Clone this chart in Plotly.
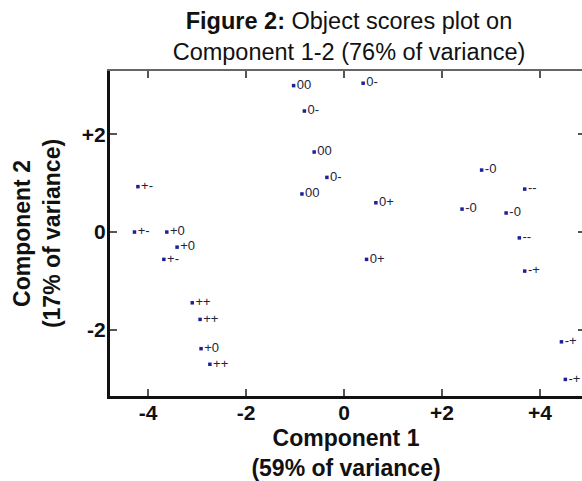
import plotly.graph_objects as go

# Object scores on the first two components
comp1 = [-4.21, -1.03, 0.39, -0.81, -0.61, -0.35, -0.86, 0.65, 0.46,
         2.81, 3.69, 2.41, 3.31, 3.58, 3.69,
         -4.28, -3.62, -3.41, -3.68, -3.10, -2.94, -2.92, -2.74,
         4.44, 4.52]
comp2 = [0.93, 3.00, 3.05, 2.48, 1.64, 1.12, 0.78, 0.60, -0.56,
         1.27, 0.88, 0.47, 0.39, -0.12, -0.80,
         0.00, 0.00, -0.31, -0.56, -1.45, -1.79, -2.39, -2.71,
         -2.25, -3.02]
labels = ["+-", "00", "0-", "0-", "00", "0-", "00", "0+", "0+",
          "-0", "--", "-0", "-0", "--", "-+",
          "+-", "+0", "+0", "+-", "++", "++", "+0", "++",
          "-+", "-+"]

x_tickvals = [-4, -2, 0, 2, 4]
x_ticktext = ["-4", "-2", "0", "+2", "+4"]
y_tickvals = [-2, 0, 2]
y_ticktext = ["-2", "0", "+2"]

x_range = [-4.78, 4.86]
y_range = [-3.36, 3.30]

base_font = "Liberation Sans, Arial, sans-serif"

fig = go.Figure()
fig.add_trace(go.Scatter(
    x=comp1, y=comp2, mode="markers+text", text=labels,
    textposition="middle right",
    marker=dict(symbol="square", size=3.5, color="#1f1f99"),
    textfont=dict(family="Liberation Sans Narrow, Liberation Sans, Arial",
                  size=13, color="#23233d"),
    cliponaxis=True, showlegend=False, hoverinfo="skip",
))
# empty trace that carries the mirrored top/right axes
fig.add_trace(go.Scatter(x=[], y=[], xaxis="x2", yaxis="y2",
                         showlegend=False, hoverinfo="skip"))

tick_style = dict(ticks="inside", ticklen=7, tickwidth=1.5, tickcolor="#555",
                  showgrid=False, zeroline=False)

fig.update_layout(
    width=582, height=481,
    margin=dict(l=110, r=0, t=71, b=85),
    paper_bgcolor="white", plot_bgcolor="white",
    title=dict(
        text="<b>Figure 2:</b> Object scores plot on<br>Component 1-2 (76% of variance)",
        x=349 / 582, xref="container", xanchor="center",
        y=0.939, yref="container", yanchor="top",
        font=dict(family=base_font, size=23.5, color="#111"),
    ),
    xaxis=dict(
        range=x_range, tickvals=x_tickvals, ticktext=x_ticktext,
        showline=True, linewidth=3, linecolor="#111", mirror=False,
        tickfont=dict(family=base_font, size=21, color="#111", weight="bold"),
        ticklabelstandoff=-4,
        title=dict(text="<b>Component 1<br>(59% of variance)</b>", standoff=10,
                   font=dict(family=base_font, size=23, color="#111")),
        **tick_style,
    ),
    yaxis=dict(
        range=y_range, tickvals=y_tickvals, ticktext=y_ticktext,
        showline=True, linewidth=3, linecolor="#111", mirror=False,
        tickfont=dict(family=base_font, size=21, color="#111", weight="bold"),
        ticklabelstandoff=-3,
        title=dict(text="<b>Component 2<br>(17% of variance)</b>", standoff=15,
                   font=dict(family=base_font, size=23, color="#111")),
        **tick_style,
    ),
    xaxis2=dict(
        overlaying="x", side="top", anchor="y", range=x_range,
        tickvals=x_tickvals, showticklabels=False,
        showline=True, linewidth=2, linecolor="#666", **tick_style,
    ),
    yaxis2=dict(
        overlaying="y", side="right", anchor="x", range=y_range,
        tickvals=y_tickvals, showticklabels=False, showline=False,
        **{**tick_style, "ticklen": 4},
    ),
)

fig.write_html("out.html")
